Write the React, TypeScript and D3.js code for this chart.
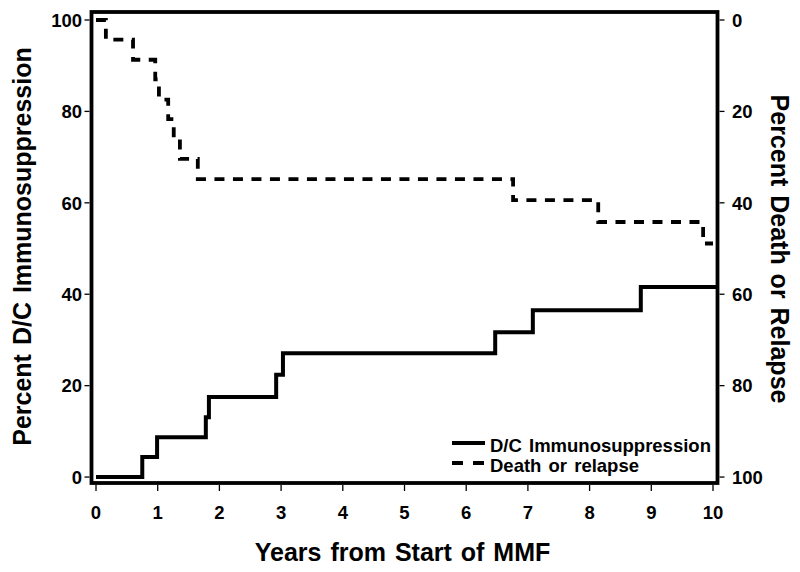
import React from "react";
import * as d3 from "d3";

const xTicks = [0, 1, 2, 3, 4, 5, 6, 7, 8, 9, 10];
const leftTicks = [0, 20, 40, 60, 80, 100];
const rightTicks = [0, 20, 40, 60, 80, 100];

// D/C Immunosuppression (cumulative %, left axis)
const dcYears = [0, 0.75, 0.99, 1.78, 1.83, 2.92, 3.03, 6.47, 7.08, 8.83, 10.05];
const dcPct = [0, 4.4, 8.7, 13.1, 17.5, 22.4, 27.1, 31.7, 36.5, 41.6, 41.6];

// Death or relapse (cumulative %, right axis, reversed)
const drYears = [0, 0.16, 0.6, 0.96, 1.02, 1.17, 1.26, 1.36, 1.65, 6.76, 8.14, 9.84, 10.0];
const drPct = [0, 4.3, 8.7, 13.0, 17.4, 21.7, 26.1, 30.4, 34.8, 39.4, 44.2, 48.9, 48.9];

const legendLabels = ["D/C Immunosuppression", "Death or relapse"];

const W = 800;
const H = 572;
const FONT = "'Liberation Sans', Arial, Helvetica, sans-serif";

export default function App() {
  const x = d3.scaleLinear().domain([-0.073, 10.073]).range([91.5, 717.5]);
  const yL = d3.scaleLinear().domain([-1.3, 101.75]).range([483, 12]);
  const yR = d3.scaleLinear().domain([0, 100]).range([yL(100), yL(0)]);

  const dcData = dcYears.map((t, i) => [t, dcPct[i]] as [number, number]);
  const drData = drYears.map((t, i) => [t, drPct[i]] as [number, number]);

  const dcLine = d3
    .line<[number, number]>()
    .x((d) => x(d[0]))
    .y((d) => yL(d[1]))
    .curve(d3.curveStepAfter);
  const drLine = d3
    .line<[number, number]>()
    .x((d) => x(d[0]))
    .y((d) => yR(d[1]))
    .curve(d3.curveStepAfter);

  const left = 91.5, right = 717.5, top = 12, bottom = 483;

  return (
    <svg
      width={W}
      height={H}
      style={{ position: "absolute", left: 0, top: 0, background: "#fff" }}
      fontFamily={FONT}
      fontWeight="bold"
    >
      <rect x={0} y={0} width={W} height={H} fill="#fff" />
      {/* data lines */}
      <path
        d={dcLine(dcData) || ""}
        fill="none"
        stroke="#000"
        strokeWidth={4}
        strokeLinejoin="miter"
      />
      <path
        d={drLine(drData) || ""}
        fill="none"
        stroke="#000"
        strokeWidth={3.8}
        strokeDasharray="10,8.5"
        strokeLinejoin="miter"
      />
      {/* frame */}
      <rect
        x={left}
        y={top}
        width={right - left}
        height={bottom - top}
        fill="none"
        stroke="#000"
        strokeWidth={3.8}
      />
      {/* x ticks */}
      {xTicks.map((t) => (
        <g key={"x" + t}>
          <line x1={x(t)} x2={x(t)} y1={bottom + 2} y2={bottom + 8} stroke="#000" strokeWidth={1.3} />
          <text x={x(t)} y={519} textAnchor="middle" fontSize={18.5}>
            {t}
          </text>
        </g>
      ))}
      {/* left ticks */}
      {leftTicks.map((t) => (
        <g key={"l" + t}>
          <line x1={left - 7} x2={left - 2} y1={yL(t)} y2={yL(t)} stroke="#000" strokeWidth={1.3} />
          <text x={82} y={yL(t) + 6.7} textAnchor="end" fontSize={18.5}>
            {t}
          </text>
        </g>
      ))}
      {/* right ticks */}
      {rightTicks.map((t) => (
        <g key={"r" + t}>
          <line x1={right + 2} x2={right + 7} y1={yR(t)} y2={yR(t)} stroke="#000" strokeWidth={1.3} />
          <text x={732} y={yR(t) + 6.7} textAnchor="start" fontSize={18.5}>
            {t}
          </text>
        </g>
      ))}
      {/* axis titles */}
      <text x={402.5} y={561} textAnchor="middle" fontSize={25} wordSpacing={2}>
        Years from Start of MMF
      </text>
      <text
        transform={`translate(31,${246.5}) rotate(-90)`}
        textAnchor="middle"
        fontSize={25}
        wordSpacing={2}
      >
        Percent D/C Immunosuppression
      </text>
      <text
        transform={`translate(771,${249}) rotate(90)`}
        textAnchor="middle"
        fontSize={25}
        wordSpacing={2}
      >
        Percent Death or Relapse
      </text>
      {/* legend */}
      <line x1={452} x2={485} y1={443} y2={443} stroke="#000" strokeWidth={3.8} />
      <text x={490} y={452} fontSize={18.5} wordSpacing={2}>
        {legendLabels[0]}
      </text>
      <line
        x1={452}
        x2={485}
        y1={463}
        y2={463}
        stroke="#000"
        strokeWidth={3.8}
        strokeDasharray="11,10"
      />
      <text x={490} y={472} fontSize={18.5} wordSpacing={2}>
        {legendLabels[1]}
      </text>
    </svg>
  );
}
